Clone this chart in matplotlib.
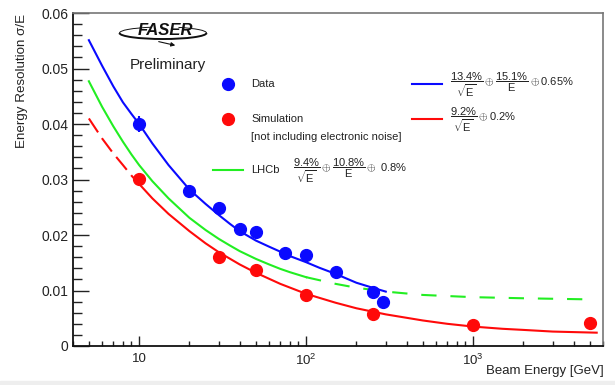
import matplotlib
matplotlib.use('Agg')
import matplotlib.pyplot as plt
from matplotlib.patches import Arc, Rectangle
from matplotlib.ticker import MultipleLocator, NullFormatter, LogLocator
import numpy as np

plt.rcParams['font.family'] = ['Liberation Sans', 'DejaVu Sans']
plt.rcParams['mathtext.fontset'] = 'custom'
plt.rcParams['mathtext.rm'] = 'Liberation Sans'
plt.rcParams['mathtext.it'] = 'Liberation Sans'
plt.rcParams['mathtext.bf'] = 'Liberation Sans:bold'
plt.rcParams['lines.scale_dashes'] = False

data_E = [10, 20, 30, 40, 50, 75, 100, 150, 250, 290]
data_res = [0.0400, 0.0280, 0.0248, 0.0211, 0.0205, 0.0167, 0.0164, 0.0133, 0.0098, 0.0080]
data_err = [0.0015, 0.0010, 0.0005, 0.0005, 0.0005, 0.0004, 0.0004, 0.0004, 0.0004, 0.0004]

sim_E = [10, 30, 50, 100, 250, 1000, 5000]
sim_res = [0.0301, 0.0161, 0.0137, 0.0091, 0.0058, 0.0037, 0.0041]

# 2. fit curves
fit_data_E = [5, 6, 7, 8, 9, 10, 12, 15, 20, 25, 30, 35, 40, 50, 60, 70, 80, 100,
              120, 150, 200, 250, 300]
fit_data_res = [0.0551, 0.0505, 0.0468, 0.0439, 0.0418, 0.0400, 0.0365, 0.0326,
                0.0282, 0.0256, 0.0236, 0.0220, 0.0207, 0.0190, 0.0179, 0.0170,
                0.0162, 0.0151, 0.0141, 0.0130, 0.0114, 0.0105, 0.0098]

fit_sim_E_lo = [5, 6, 7, 8, 9, 10]
fit_sim_res_lo = [0.0410, 0.0374, 0.0347, 0.0326, 0.0307, 0.0292]
fit_sim_E = [10, 12, 15, 20, 25, 30, 40, 50, 70, 100, 150, 200, 300, 500, 700,
             1000, 1500, 2000, 3000, 5500]
fit_sim_res = [0.0292, 0.0266, 0.0238, 0.0207, 0.0185, 0.0169, 0.0147, 0.0132,
               0.0112, 0.0094, 0.0078, 0.0068, 0.0057, 0.0046, 0.0040, 0.0035,
               0.0031, 0.0029, 0.0026, 0.0024]

lhcb_E = [5, 6, 7, 8, 9, 10, 12, 15, 20, 25, 30, 35, 40, 50, 60, 70, 80, 100]
lhcb_res = [0.0477, 0.0431, 0.0396, 0.0368, 0.0345, 0.0326, 0.0297, 0.0266,
            0.0231, 0.0209, 0.0193, 0.0181, 0.0171, 0.0157, 0.0147, 0.0139,
            0.0133, 0.0124]
lhcb_E_ext = [100, 150, 200, 300, 500, 1000, 2000, 5000]
lhcb_res_ext = [0.0124, 0.0112, 0.0105, 0.0098, 0.0092, 0.0088, 0.0086, 0.0084]

y_ticks = [0, 0.01, 0.02, 0.03, 0.04, 0.05, 0.06]
y_labels = ['0', '0.01', '0.02', '0.03', '0.04', '0.05', '0.06']
x_ticks = [10, 100, 1000]
x_labels = ['10', r'$10^{2}$', r'$10^{3}$']

BLUE = '#0a0aff'
RED = '#ff0a0a'
GREEN = '#22ee22'

fig = plt.figure(figsize=(6.15, 3.85), dpi=100)
ax = fig.add_axes([0.1182, 0.1013, 0.8623, 0.8649])


def axpos(px, py):
    # pixel position in the picture -> axes fraction
    return (px - 72.7) / 530.3, (346 - py) / 333.0


# 3. curves
ax.plot(fit_data_E, fit_data_res, color=BLUE, lw=1.5)
ax.plot(lhcb_E, lhcb_res, color=GREEN, lw=1.5)
ax.plot(lhcb_E_ext, lhcb_res_ext, color=GREEN, lw=1.5, dashes=(11, 10))
ax.plot(fit_sim_E_lo, fit_sim_res_lo, color=RED, lw=1.5, dashes=(12, 5))
ax.plot(fit_sim_E, fit_sim_res, color=RED, lw=1.5)

# 4. points
ax.errorbar(data_E, data_res, yerr=data_err, fmt='o', color=BLUE, ms=8.5,
            elinewidth=1.5, capsize=0, zorder=5)
ax.plot(sim_E, sim_res, 'o', color=RED, ms=8.5, zorder=5)

# 5. axes
ax.set_xscale('log')
ax.set_xlim(4, 6000)
ax.set_ylim(0, 0.06)
ax.set_xticks(x_ticks)
ax.set_xticklabels(x_labels)
ax.xaxis.set_minor_locator(LogLocator(base=10, subs=np.arange(2, 10)))
ax.xaxis.set_minor_formatter(NullFormatter())
ax.set_yticks(y_ticks)
ax.set_yticklabels(y_labels)
ax.yaxis.set_minor_locator(MultipleLocator(0.002))
ax.tick_params(axis='both', which='both', direction='in', top=False, right=False,
               labelsize=10, colors='#222222', width=1)
ax.tick_params(axis='y', which='major', length=11.5, pad=3)
ax.tick_params(axis='y', which='minor', length=6.5)
ax.tick_params(axis='x', which='major', length=7, pad=5, labelsize=9.5)
ax.tick_params(axis='x', which='minor', length=3.5)
for s in ['left', 'bottom']:
    ax.spines[s].set_color('#111111')
    ax.spines[s].set_linewidth(1.3)
for s in ['top', 'right']:
    ax.spines[s].set_color('#777777')
    ax.spines[s].set_linewidth(1.2)

fig.text(22 / 615, 1 - 14 / 385, 'Energy Resolution σ/E', rotation=90,
         ha='center', va='top', fontsize=9.6, color='#222222')
fig.text(604 / 615, 1 - 371 / 385, 'Beam Energy [GeV]', ha='right', va='center',
         fontsize=9.5, color='#222222')

# 6. legend drawn by hand
ax.plot(*axpos(228, 84), 'o', color=BLUE, ms=8.5, transform=ax.transAxes, clip_on=False)
ax.plot(*axpos(228, 119), 'o', color=RED, ms=8.5, transform=ax.transAxes, clip_on=False)
for (x0, x1, y, c) in [(412, 442, 84, BLUE), (412, 442, 119, RED), (213, 243, 170, GREEN)]:
    p0 = axpos(x0, y)
    p1 = axpos(x1, y)
    ax.plot([p0[0], p1[0]], [p0[1], p1[1]], color=c, lw=1.5, transform=ax.transAxes)

txt = dict(transform=ax.transAxes, fontsize=8, va='center', ha='left', color='#222222')
ax.text(*axpos(251, 84), 'Data', **txt)
ax.text(*axpos(251, 119), 'Simulation', **txt)
ax.text(*axpos(251, 137), '[not including electronic noise]', **txt)
ax.text(*axpos(251, 170), 'LHCb', **txt)
ax.text(*axpos(450, 85), r'$\dfrac{13.4\%}{\sqrt{E}}\oplus\dfrac{15.1\%}{E}\oplus 0.65\%$', **txt)
ax.text(*axpos(450, 120), r'$\dfrac{9.2\%}{\sqrt{E}}\oplus 0.2\%$', **txt)
ax.text(*axpos(293, 171), r'$\dfrac{9.4\%}{\sqrt{E}}\oplus\dfrac{10.8\%}{E}\oplus\ 0.8\%$', **txt)

# 7. FASER logo + Preliminary
ax.text(*axpos(165, 30), 'FASER', transform=ax.transAxes, fontsize=12,
        fontweight='bold', fontstyle='italic', ha='center', va='center', color='#111111')
cx, cy = axpos(163, 33)
ax.add_patch(Arc((cx, cy), 87 / 530.3, 12 / 333.0, theta1=180, theta2=360,
                 transform=ax.transAxes, lw=1.4, color='#111111'))
ax.add_patch(Arc((cx, cy), 87 / 530.3, 12 / 333.0, theta1=140, theta2=180,
                 transform=ax.transAxes, lw=0.7, color='#111111'))
ax.add_patch(Arc((cx, cy), 87 / 530.3, 12 / 333.0, theta1=0, theta2=30,
                 transform=ax.transAxes, lw=0.7, color='#111111'))
ax.annotate('', xy=axpos(178, 46), xytext=axpos(156, 41), xycoords='axes fraction',
            arrowprops=dict(arrowstyle='-|>', lw=0.8, color='#111111', mutation_scale=6))
ax.text(*axpos(168, 65), 'Preliminary', transform=ax.transAxes, fontsize=11,
        ha='center', va='center', color='#222222')

fig.patches.append(Rectangle((0, 0), 1, 4 / 385, transform=fig.transFigure,
                             color='#eeeeee', zorder=-1))

fig.savefig('out.png', dpi=100)
